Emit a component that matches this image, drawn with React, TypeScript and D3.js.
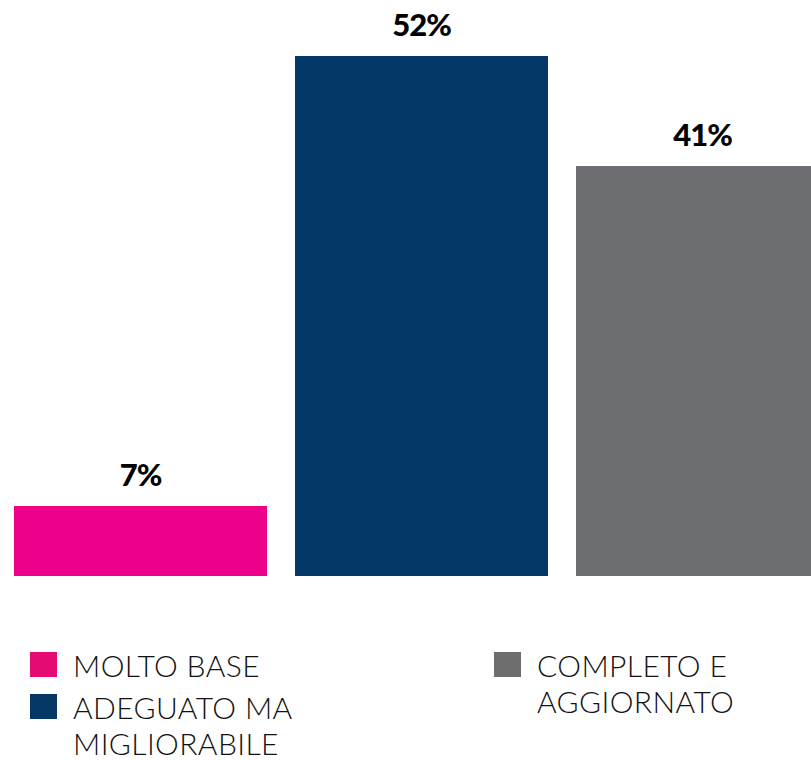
import React, { useEffect, useRef } from "react";
import * as d3 from "d3";

const categories = ["MOLTO BASE", "ADEGUATO MA MIGLIORABILE", "COMPLETO E AGGIORNATO"];
const values = [7, 52, 41];
const barColors = ["#EC008C", "#043866", "#6D6E71"];
const legendColors = ["#E60B73", "#043763", "#6E6E6E"];
// legend text split into lines as in the original
const legendLines = [["MOLTO BASE"], ["ADEGUATO MA", "MIGLIORABILE"], ["COMPLETO E", "AGGIORNATO"]];

export default function App() {
  const ref = useRef<SVGSVGElement>(null);

  useEffect(() => {
    const width = 811;
    const height = 760;
    const svg = d3.select(ref.current).attr("width", width).attr("height", height);
    svg.selectAll("*").remove();

    const baseline = 576;
    // last bar runs past the right edge and gets clipped, like the original
    const x = d3.scaleBand().domain(categories).range([14, 829]).paddingInner(28 / 281).paddingOuter(0);
    const y = d3.scaleLinear().domain([0, 10]).range([baseline, baseline - 100]);

    const bars = svg.append("g");
    bars.selectAll("rect").data(values).enter()
      .append("rect")
      .attr("x", (d, i) => x(categories[i])!)
      .attr("y", d => y(d))
      .attr("width", x.bandwidth())
      .attr("height", d => baseline - y(d))
      .attr("fill", (d, i) => barColors[i]);

    //value labels above bars
    bars.selectAll("text").data(values).enter()
      .append("text")
      .attr("x", (d, i) => x(categories[i])! + x.bandwidth() / 2)
      .attr("y", d => y(d) - 20)
      .attr("text-anchor", "middle")
      .style("font-family", "Lato")
      .style("font-weight", 900)
      .style("font-size", "31px")
      .style("letter-spacing", "-1px")
      .style("fill", "#000")
      .text(d => d + "%");

    // legend
    const legendPos = [[30, 652], [30, 694], [494, 652]];
    const legend = svg.append("g");
    legendLines.forEach((lines, i) => {
      const [lx, ly] = legendPos[i];
      legend.append("rect")
        .attr("x", lx).attr("y", ly)
        .attr("width", 27).attr("height", 25)
        .attr("fill", legendColors[i]);
      lines.forEach((line, j) => {
        legend.append("text")
          .attr("x", lx + 43)
          .attr("y", ly + 25 + j * 36)
          .style("font-family", "Lato")
          .style("font-weight", 300)
          .style("font-size", "30px")
          .style("letter-spacing", "0.4px")
          .style("fill", "#111")
          .text(line);
      });
    });
  }, []);

  return (
    <svg ref={ref} style={{ position: "absolute", left: 0, top: 0 }}></svg>
  );
}
